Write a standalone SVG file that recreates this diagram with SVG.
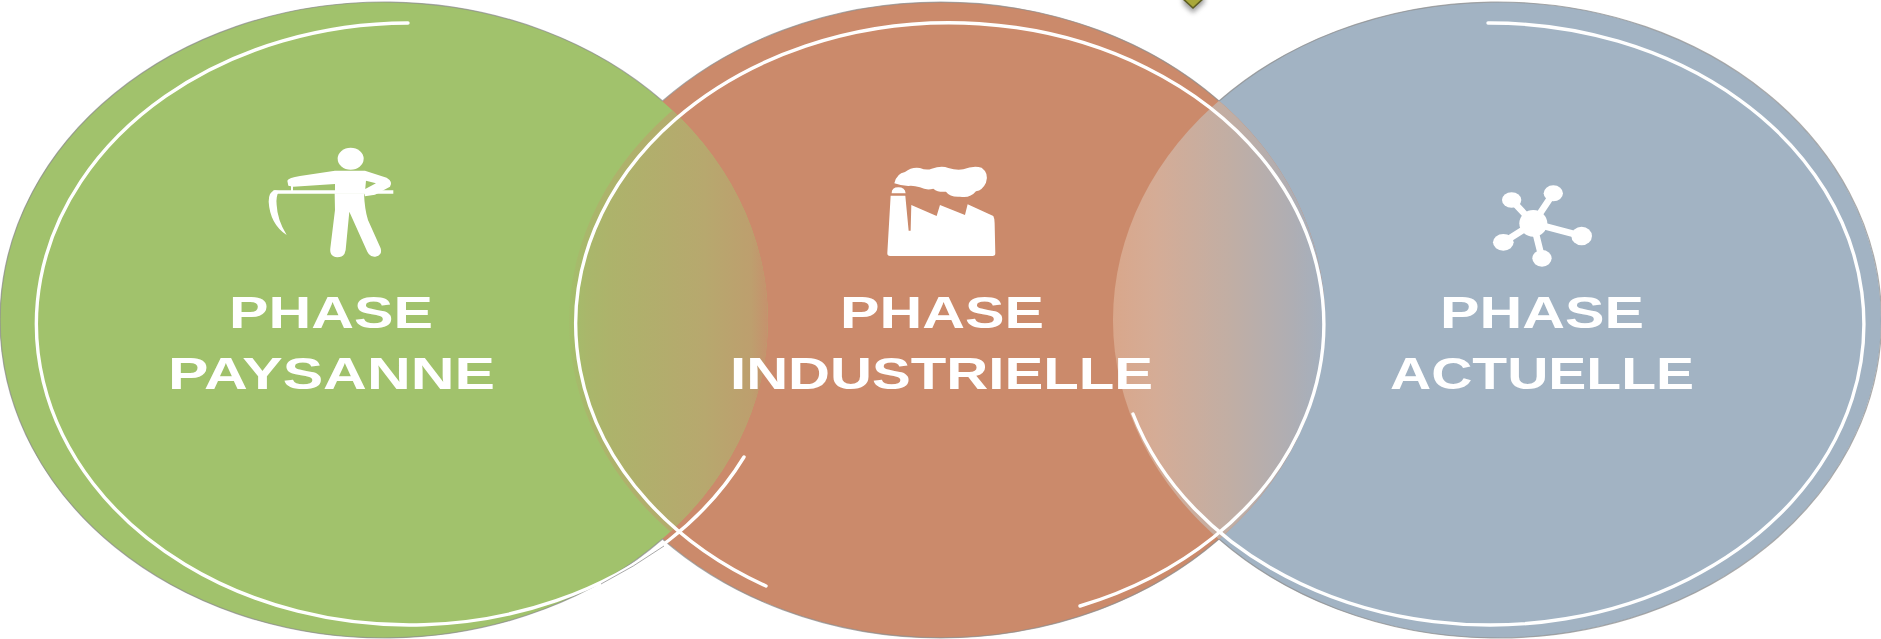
<svg xmlns="http://www.w3.org/2000/svg" width="1881" height="639" viewBox="0 0 1881 639">
<style>
.ring{fill:none;stroke:#fff;stroke-width:3.4;stroke-linecap:round}
.edge{fill:none;stroke:#8f8f8f;stroke-width:1.2;opacity:.75}
.lbl{font-family:"Liberation Sans",Arial,sans-serif;font-size:44px;font-weight:700;fill:#fff}
.ico{fill:#fff;stroke:none}
.lnk{stroke:#fff;fill:none}
</style>
<defs>
<clipPath id="cg"><ellipse cx="384" cy="320" rx="384" ry="318"/></clipPath>
<clipPath id="cb"><ellipse cx="1497" cy="320" rx="384" ry="318"/></clipPath>
<clipPath id="cr"><ellipse cx="950" cy="322" rx="381" ry="309"/></clipPath>
<linearGradient id="g1" gradientUnits="userSpaceOnUse" x1="557" y1="0" x2="768" y2="0">
<stop offset="0" stop-color="#a1c26c"/><stop offset=".07" stop-color="#a4bd6b"/><stop offset=".14" stop-color="#a9b76b"/><stop offset=".25" stop-color="#adb36b"/><stop offset=".7" stop-color="#b7a86e"/><stop offset=".92" stop-color="#bd9f6e"/><stop offset="1" stop-color="#c6916d"/>
</linearGradient>
<linearGradient id="g2" gradientUnits="userSpaceOnUse" x1="1113" y1="0" x2="1326" y2="0">
<stop offset="0" stop-color="#d9a78b"/><stop offset=".2" stop-color="#d5ac96"/><stop offset=".55" stop-color="#c1aea4"/><stop offset=".85" stop-color="#aeaeb4"/><stop offset="1" stop-color="#a3b0bf"/>
</linearGradient>
<filter id="blur" x="-50%" y="-50%" width="200%" height="200%"><feGaussianBlur stdDeviation="2.5"/></filter>
</defs>
<rect width="1881" height="639" fill="#fff"/>
<g id="marker-top">
<polygon points="1183,-6 1203,-6 1205,2 1193,13 1183,4" fill="#777" filter="url(#blur)" opacity=".7"/>
<polygon points="1181,-3 1193,8 1205,-3 1193,-14" fill="#a9a83a" stroke="#5e5e22" stroke-width="1.6"/>
</g>
<g id="discs">
<ellipse id="disc-paysanne" cx="384" cy="320" rx="384" ry="318" fill="#a1c26c"/>
<ellipse id="disc-actuelle" cx="1497" cy="320" rx="384" ry="318" fill="#a2b3c3"/>
<path id="disc-industrielle" fill="#cb8a6b" fill-rule="evenodd" d="M557 320A384 318 0 0 1 1325 320A384 318 0 0 1 557 320Z" clip-path="none"/>
<ellipse cx="384" cy="320" rx="384" ry="318" fill="#a1c26c" clip-path="url(#cg)"/>
<path class="edge" d="M662.5 101A384 318 0 1 0 662.5 539"/>
<path class="edge" d="M662.5 101A384 318 0 0 1 1219 101"/>
<path class="edge" d="M1219 539A384 318 0 0 1 662.5 539"/>
<path class="edge" d="M1219 101A384 318 0 1 1 1219 539"/>
</g>
<g id="overlaps">
<g clip-path="url(#cr)"><ellipse cx="941" cy="320" rx="384" ry="318" fill="url(#g1)" clip-path="url(#cg)"/></g>
<ellipse cx="941" cy="320" rx="384" ry="318" fill="url(#g2)" clip-path="url(#cb)"/>
</g>
<g id="rings">
<path class="ring" d="M408 23A373 301 0 1 0 744 457"/>
<path class="ring" d="M1080 606A374 301 0 1 0 766 586"/>
<path class="ring" d="M1488 23A374 301 0 1 1 1133 414"/>
<path d="M601 584Q634 567 664 546" fill="none" stroke="#a0a0a0" stroke-width=".9"/>
</g>
<g id="phase-paysanne">
<g transform="translate(230 130) scale(.3333)">
<ellipse class="ico" cx="362" cy="86" rx="39" ry="33"/>
<path class="ico" d="M172 152Q176 143 210 138L315 122L405 122L470 143Q490 155 480 170L435 194L405 199L400 180L438 160L408 152L405 185L315 185L315 162L190 170L175 167Z"/>
<path class="ico" d="M314 190L402 190Q404 240 414 270L452 355Q458 376 436 380Q420 382 412 365L358 245L347 360Q344 382 322 382Q298 380 301 355L315 240Z"/>
<path class="lnk" stroke-width="10" d="M130 186L490 186"/>
<path class="lnk" stroke-width="6" d="M186 160L186 186"/>
<path class="ico" d="M135 181Q116 185 116 215Q120 282 170 315Q142 270 140 225Q137 200 147 183Z"/>
</g>
<text class="lbl" x="229" y="328" textLength="204" lengthAdjust="spacingAndGlyphs">PHASE</text>
<text class="lbl" x="168" y="389" textLength="327" lengthAdjust="spacingAndGlyphs">PAYSANNE</text>
</g>
<g id="phase-industrielle">
<g transform="translate(700 140) scale(.3333)">
<path class="ico" d="M583 130Q590 100 615 96Q635 80 660 84Q680 92 695 86Q725 76 745 84Q770 92 790 88Q820 76 845 83Q868 100 858 128Q848 150 828 154Q810 176 780 170Q750 172 738 155Q715 158 700 146Q680 152 660 142Q640 136 625 138Q600 136 583 130Z"/>
<path class="ico" d="M575 160Q575 142 595 142Q615 142 617 160Z"/>
<path class="ico" d="M572 167L616 167L626 272L632 272L634 195L710 228L720 195L795 225L803 193L880 228Q884 235 884 250L886 340Q886 348 878 348L570 348Q562 348 562 340Z"/>
</g>
<text class="lbl" x="840" y="328" textLength="204" lengthAdjust="spacingAndGlyphs">PHASE</text>
<text class="lbl" x="730" y="389" textLength="423" lengthAdjust="spacingAndGlyphs">INDUSTRIELLE</text>
</g>
<g id="phase-actuelle">
<g transform="translate(1370 160) scale(.3333)">
<path class="lnk" stroke-width="20" d="M490 190L425 120M490 190L550 100M490 190L635 228M490 190L400 247M490 190L516 295"/>
<ellipse class="ico" cx="490" cy="190" rx="42" ry="40"/>
<ellipse class="ico" cx="425" cy="120" rx="29" ry="23"/>
<ellipse class="ico" cx="550" cy="100" rx="29" ry="24"/>
<ellipse class="ico" cx="635" cy="228" rx="31" ry="28"/>
<ellipse class="ico" cx="400" cy="247" rx="31" ry="25"/>
<ellipse class="ico" cx="516" cy="295" rx="29" ry="25"/>
</g>
<text class="lbl" x="1440" y="328" textLength="204" lengthAdjust="spacingAndGlyphs">PHASE</text>
<text class="lbl" x="1390" y="389" textLength="304" lengthAdjust="spacingAndGlyphs">ACTUELLE</text>
</g>
</svg>
